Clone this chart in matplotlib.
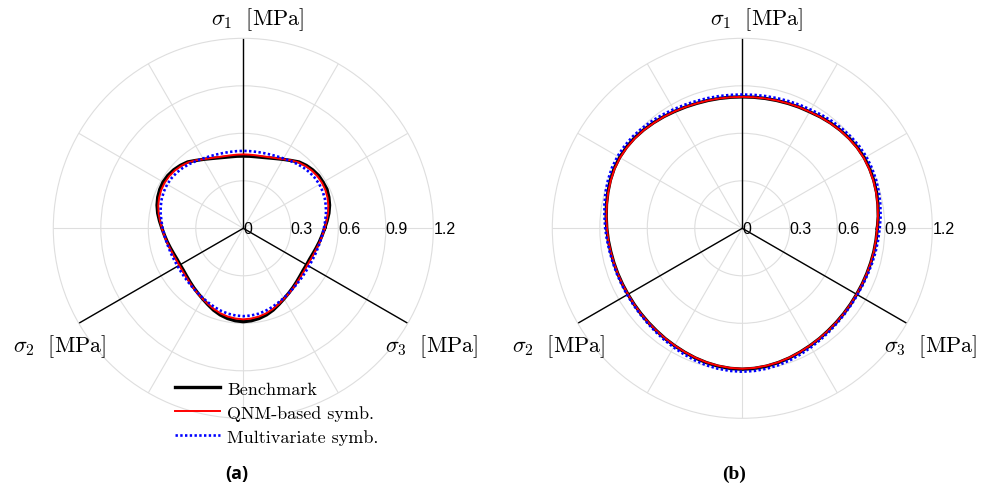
import numpy as np
import matplotlib
matplotlib.use('Agg')
import matplotlib.pyplot as plt
from matplotlib.lines import Line2D

plt.rcParams['mathtext.fontset'] = 'cm'

# polar angle of each sample [deg], radius [MPa]
angles_deg = list(range(0, 360, 5))

# (a)
bench_a = [0.514, 0.531, 0.549, 0.564, 0.575, 0.583,
           0.582,
           0.581, 0.573, 0.562, 0.547, 0.523, 0.503, 0.486, 0.473, 0.464, 0.459, 0.457,
           0.456,
           0.457, 0.459, 0.464, 0.473, 0.486, 0.503, 0.523, 0.547, 0.562, 0.574, 0.582,
           0.585,
           0.582, 0.575, 0.564, 0.549, 0.531, 0.514, 0.500, 0.488, 0.477, 0.468, 0.462,
           0.461,
           0.462, 0.468, 0.477, 0.488, 0.500, 0.514, 0.531, 0.550, 0.566, 0.578, 0.586,
           0.590,
           0.586, 0.578, 0.566, 0.550, 0.531, 0.514, 0.500, 0.488, 0.477, 0.468, 0.462,
           0.461,
           0.462, 0.468, 0.477, 0.488, 0.500]
qnm_a = [0.514, 0.528, 0.543, 0.556, 0.566, 0.572,
         0.574,
         0.572, 0.566, 0.556, 0.543, 0.524, 0.504, 0.489, 0.478, 0.471, 0.468, 0.467,
         0.467,
         0.467, 0.468, 0.471, 0.478, 0.489, 0.504, 0.524, 0.543, 0.556, 0.566, 0.572,
         0.574,
         0.572, 0.566, 0.556, 0.543, 0.528, 0.514, 0.502, 0.491, 0.481, 0.474, 0.469,
         0.467,
         0.469, 0.474, 0.481, 0.491, 0.502, 0.514, 0.528, 0.543, 0.556, 0.566, 0.572,
         0.575,
         0.572, 0.566, 0.556, 0.543, 0.528, 0.514, 0.502, 0.491, 0.481, 0.474, 0.469,
         0.467,
         0.469, 0.474, 0.481, 0.491, 0.502]
multi_a = [0.509, 0.519, 0.530, 0.540, 0.548, 0.553,
           0.555,
           0.553, 0.548, 0.540, 0.530, 0.519, 0.509, 0.502, 0.496, 0.492, 0.490, 0.489,
           0.489,
           0.489, 0.490, 0.492, 0.496, 0.502, 0.509, 0.519, 0.530, 0.540, 0.548, 0.553,
           0.555,
           0.553, 0.548, 0.540, 0.530, 0.519, 0.509, 0.500, 0.493, 0.487, 0.483, 0.480,
           0.479,
           0.480, 0.483, 0.487, 0.493, 0.500, 0.509, 0.519, 0.530, 0.540, 0.548, 0.553,
           0.555,
           0.553, 0.548, 0.540, 0.530, 0.519, 0.509, 0.500, 0.493, 0.487, 0.483, 0.480,
           0.479,
           0.480, 0.483, 0.487, 0.493, 0.500]

# (b)
bench_b = [0.853, 0.862, 0.870, 0.878, 0.884, 0.888,
           0.890,
           0.888, 0.883, 0.876, 0.868, 0.859, 0.850, 0.845, 0.840, 0.836, 0.833, 0.831,
           0.830,
           0.831, 0.833, 0.836, 0.840, 0.846, 0.853, 0.862, 0.871, 0.880, 0.888, 0.893,
           0.895,
           0.893, 0.887, 0.879, 0.871, 0.863, 0.856, 0.850, 0.844, 0.840, 0.837, 0.835,
           0.834,
           0.835, 0.837, 0.840, 0.844, 0.850, 0.856, 0.863, 0.871, 0.878, 0.884, 0.888,
           0.890,
           0.888, 0.884, 0.878, 0.871, 0.863, 0.856, 0.850, 0.844, 0.840, 0.837, 0.835,
           0.834,
           0.835, 0.837, 0.840, 0.844, 0.848]
qnm_b = [0.852, 0.860, 0.868, 0.875, 0.881, 0.885,
         0.887,
         0.885, 0.880, 0.874, 0.866, 0.858, 0.850, 0.845, 0.840, 0.836, 0.833, 0.831,
         0.830,
         0.831, 0.833, 0.836, 0.840, 0.846, 0.853, 0.861, 0.869, 0.878, 0.885, 0.890,
         0.892,
         0.890, 0.884, 0.877, 0.869, 0.862, 0.855, 0.850, 0.844, 0.840, 0.837, 0.835,
         0.834,
         0.835, 0.837, 0.840, 0.844, 0.849, 0.855, 0.862, 0.869, 0.876, 0.881, 0.885,
         0.887,
         0.885, 0.881, 0.876, 0.869, 0.862, 0.855, 0.849, 0.844, 0.840, 0.837, 0.835,
         0.834,
         0.835, 0.837, 0.840, 0.844, 0.847]
multi_b = [0.868, 0.877, 0.885, 0.893, 0.899, 0.903,
           0.905,
           0.903, 0.898, 0.891, 0.883, 0.874, 0.865, 0.860, 0.855, 0.851, 0.848, 0.846,
           0.845,
           0.846, 0.848, 0.851, 0.855, 0.861, 0.868, 0.877, 0.886, 0.895, 0.903, 0.908,
           0.910,
           0.908, 0.902, 0.894, 0.884, 0.874, 0.866, 0.858, 0.851, 0.846, 0.843, 0.841,
           0.840,
           0.841, 0.843, 0.847, 0.853, 0.860, 0.868, 0.877, 0.886, 0.894, 0.900, 0.904,
           0.906,
           0.904, 0.900, 0.894, 0.886, 0.877, 0.868, 0.860, 0.853, 0.847, 0.843, 0.841,
           0.840,
           0.841, 0.844, 0.849, 0.855, 0.861]

axis_angles = [90, 210, 330]
axis_labels = [r'$\sigma_1\ \ [\mathrm{MPa}]$', r'$\sigma_2\ \ [\mathrm{MPa}]$',
               r'$\sigma_3\ \ [\mathrm{MPa}]$']
r_ticks = [0, 0.3, 0.6, 0.9, 1.2]
r_tick_labels = ['0', '0.3', '0.6', '0.9', '1.2']
series_names = ['Benchmark', 'QNM-based symb.', 'Multivariate symb.']

RMAX = 1.2
GRID = '#dedede'
DOT = (0, (0.9, 0.9))


def closed(v):
    return np.append(v, v[0])


fig = plt.figure(figsize=(9.81, 4.89), dpi=100)


def panel(rect, bench, qnm, multi):
    ax = fig.add_axes(rect, projection='polar')
    ax.set_ylim(0, RMAX)
    ax.set_thetagrids(range(0, 360, 30), labels=[])
    ax.set_rgrids(r_ticks[1:-1], labels=[])
    ax.grid(color=GRID, lw=0.8)
    ax.spines['polar'].set_color(GRID)
    ax.spines['polar'].set_linewidth(0.8)
    for a in axis_angles:
        ax.plot([np.deg2rad(a)] * 2, [0, RMAX], color='k', lw=1.0)
    th = np.deg2rad(closed(angles_deg))
    ax.plot(th, closed(bench), color='k', lw=2.4)
    ax.plot(th, closed(qnm), color='r', lw=1.4)
    ax.plot(th, closed(multi), color='b', lw=1.9, ls=DOT)
    for r, t in zip(r_ticks, r_tick_labels):
        ax.text(0, r, t, ha='left', va='center', fontsize=11.5, family='Liberation Sans')
    # positions of the sigma labels in axes fraction
    pos = [(0.537, 1.051), (0.0155, 0.191), (0.996, 0.191)]
    for (x, y), lab in zip(pos, axis_labels):
        ax.text(x, y, lab, transform=ax.transAxes, ha='center', va='center', fontsize=16)
    return ax


w, h = 380 / 981, 380 / 489
ax1 = panel([53.3 / 981, 69.7 / 489, w, h], bench_a, qnm_a, multi_a)
ax2 = panel([552.3 / 981, 69.7 / 489, w, h], bench_b, qnm_b, multi_b)

handles = [Line2D([], [], color='k', lw=2.4),
           Line2D([], [], color='r', lw=1.4),
           Line2D([], [], color='b', lw=1.9, ls=DOT)]
ax1.legend(handles, series_names, loc='upper left', bbox_to_anchor=(175 / 981, (489 - 382) / 489),
           bbox_transform=fig.transFigure, frameon=False, borderpad=0, borderaxespad=0,
           handlelength=2.5, handletextpad=0.4, labelspacing=0.45,
           prop={'family': 'cmr10', 'size': 13})

fig.text(236.7 / 981, 1 - 474 / 489, '(a)', ha='center', va='center', fontsize=13,
         fontweight='bold', family='Open Sans')
fig.text(734 / 981, 1 - 474 / 489, '(b)', ha='center', va='center', fontsize=14,
         fontweight='bold', family='Liberation Serif')

fig.savefig('out.png', dpi=100)
